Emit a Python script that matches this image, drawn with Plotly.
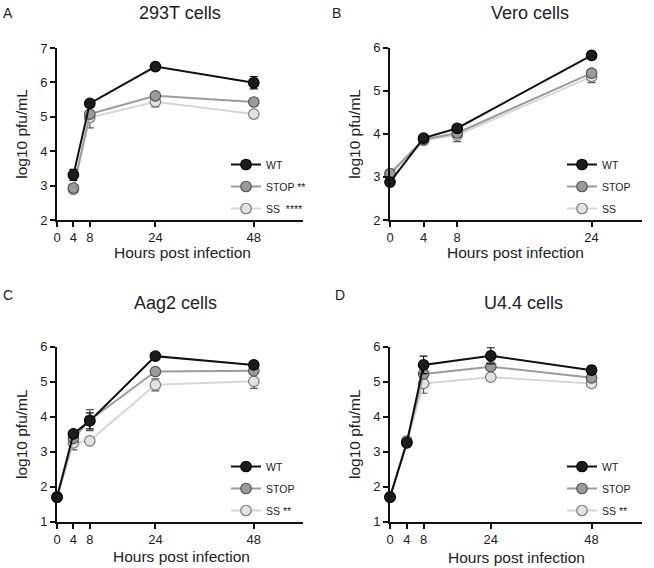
import plotly.graph_objects as go

W, H = 654, 568

# ---------------- data ----------------
series_names = ["WT", "STOP", "SS"]

# Panel A: 293T cells
a_hours = [4, 8, 24, 48]
a_wt = [3.31, 5.39, 6.46, 5.99]
a_wt_err = [0.16, 0.0, 0.0, 0.18]
a_stop = [2.93, 5.08, 5.61, 5.43]
a_stop_err = [0.0, 0.0, 0.0, 0.1]
a_ss = [2.89, 4.98, 5.44, 5.08]
a_ss_err = [0.0, 0.3, 0.15, 0.0]
a_labels = ["WT", "STOP **", "SS  ****"]

# Panel B: Vero cells
b_hours = [0, 4, 8, 24]
b_wt = [2.88, 3.90, 4.13, 5.82]
b_wt_err = [0.0, 0.06, 0.05, 0.08]
b_stop = [3.08, 3.87, 4.02, 5.41]
b_stop_err = [0.0, 0.05, 0.1, 0.08]
b_ss = [3.05, 3.85, 3.97, 5.33]
b_ss_err = [0.0, 0.05, 0.15, 0.14]
b_labels = ["WT", "STOP", "SS"]

# Panel C: Aag2 cells
c_hours = [0, 4, 8, 24, 48]
c_wt = [1.70, 3.51, 3.88, 5.73, 5.48]
c_wt_err = [0.0, 0.05, 0.23, 0.0, 0.06]
c_stop = [1.70, 3.38, 3.90, 5.29, 5.31]
c_stop_err = [0.0, 0.1, 0.3, 0.0, 0.08]
c_ss = [1.70, 3.25, 3.31, 4.91, 5.01]
c_ss_err = [0.0, 0.2, 0.0, 0.17, 0.2]
c_labels = ["WT", "STOP", "SS **"]

# Panel D: U4.4 cells
d_hours = [0, 4, 8, 24, 48]
d_wt = [1.70, 3.25, 5.48, 5.74, 5.33]
d_wt_err = [0.0, 0.05, 0.25, 0.23, 0.12]
d_stop = [1.70, 3.30, 5.22, 5.43, 5.11]
d_stop_err = [0.0, 0.05, 0.1, 0.1, 0.05]
d_ss = [1.70, 3.28, 4.95, 5.13, 4.95]
d_ss_err = [0.0, 0.05, 0.28, 0.05, 0.05]
d_labels = ["WT", "STOP", "SS **"]

titles = ["293T cells", "Vero cells", "Aag2 cells", "U4.4 cells"]
letters = ["A", "B", "C", "D"]
x_title = "Hours post infection"
y_title = "log10 pfu/mL"
x_ticks_48 = [0, 4, 8, 24, 48]
x_ticks_24 = [0, 4, 8, 24]

# ---------------- styles ----------------
FONT = "Arial, Liberation Sans, Helvetica, sans-serif"
TXT = "#222222"
styles = {
    "WT": dict(fill="#1c1c1c", edge="#000000", line="#111111", err="#111111"),
    "STOP": dict(fill="#9a9a9a", edge="#555555", line="#9c9c9c", err="#555555"),
    "SS": dict(fill="#e2e2e2", edge="#7a7a7a", line="#d6d6d6", err="#555555"),
}

fig = go.Figure()

panels = [
    dict(hours=a_hours, data=[(a_wt, a_wt_err), (a_stop, a_stop_err), (a_ss, a_ss_err)], labels=a_labels,
         xa="x", ya="y", leg="legend", yr=[2, 7], xr=[0, 60], xtall=x_ticks_48, yt=[2, 3, 4, 5, 6, 7]),
    dict(hours=b_hours, data=[(b_wt, b_wt_err), (b_stop, b_stop_err), (b_ss, b_ss_err)], labels=b_labels,
         xa="x2", ya="y2", leg="legend2", yr=[2, 6], xr=[0, 30], xtall=x_ticks_24, yt=[2, 3, 4, 5, 6]),
    dict(hours=c_hours, data=[(c_wt, c_wt_err), (c_stop, c_stop_err), (c_ss, c_ss_err)], labels=c_labels,
         xa="x3", ya="y3", leg="legend3", yr=[1, 6], xr=[0, 60], xtall=x_ticks_48, yt=[1, 2, 3, 4, 5, 6]),
    dict(hours=d_hours, data=[(d_wt, d_wt_err), (d_stop, d_stop_err), (d_ss, d_ss_err)], labels=d_labels,
         xa="x4", ya="y4", leg="legend4", yr=[1, 6], xr=[0, 60], xtall=x_ticks_48, yt=[1, 2, 3, 4, 5, 6]),
]

for pi, p in enumerate(panels):
    # draw SS first, WT last (WT on top)
    for si in [2, 1, 0]:
        name = series_names[si]
        st = styles[name]
        vals, errs = p["data"][si]
        fig.add_trace(go.Scatter(
            x=p["hours"], y=vals, mode="lines+markers",
            name=p["labels"][si],
            xaxis=p["xa"], yaxis=p["ya"], legend=p["leg"],
            legendgroup=f"{letters[pi]}_{name}", legendrank=si + 1,
            line=dict(color=st["line"], width=2),
            marker=dict(size=10.5, color=st["fill"], line=dict(color=st["edge"], width=1.2)),
            error_y=dict(type="data", array=errs, visible=True, color=st["err"], thickness=1.2, width=4),
            cliponaxis=False,
            showlegend=True,
        ))

def px_x(px):
    return px / W

def px_y(py):
    return 1 - py / H

doms = {
    "A": dict(x=[px_x(57), px_x(303)], y=[px_y(220), px_y(48)]),
    "B": dict(x=[px_x(390), px_x(642)], y=[px_y(220), px_y(47.7)]),
    "C": dict(x=[px_x(57), px_x(303)], y=[px_y(521.7), px_y(346.7)]),
    "D": dict(x=[px_x(390), px_x(642)], y=[px_y(521.7), px_y(346.7)]),
}

axis_common = dict(showline=True, linecolor="#111111", linewidth=1.6, ticks="outside",
                   ticklen=5, tickwidth=1.6, tickcolor="#111111", showgrid=False, zeroline=False,
                   automargin=False,
                   tickfont=dict(family=FONT, size=13, color=TXT), fixedrange=True)

layout = dict(
    width=W, height=H, margin=dict(l=0, r=0, t=0, b=0, autoexpand=False),
    paper_bgcolor="white", plot_bgcolor="white",
    font=dict(family=FONT, color=TXT),
)

axis_keys = [("xaxis", "yaxis"), ("xaxis2", "yaxis2"), ("xaxis3", "yaxis3"), ("xaxis4", "yaxis4")]
for pi, p in enumerate(panels):
    L = letters[pi]
    xk, yk = axis_keys[pi]
    yanchor_name = "y" if pi == 0 else f"y{pi + 1}"
    xanchor_name = "x" if pi == 0 else f"x{pi + 1}"
    layout[xk] = dict(axis_common, domain=doms[L]["x"], range=p["xr"], anchor=yanchor_name,
                      tickvals=p["xtall"], ticktext=[str(v) for v in p["xtall"]])
    layout[yk] = dict(axis_common, domain=doms[L]["y"], range=p["yr"], anchor=xanchor_name,
                      tickvals=p["yt"], ticktext=[str(v) for v in p["yt"]],
                      title=dict(text=y_title, font=dict(family=FONT, size=15.5, color=TXT), standoff=9))

leg_common = dict(bgcolor="rgba(0,0,0,0)", borderwidth=0, font=dict(family=FONT, size=10.5, color=TXT),
                  tracegroupgap=3, itemwidth=30, xanchor="left", yanchor="top", traceorder="grouped")
layout["legend"] = dict(leg_common, x=px_x(226), y=px_y(150))
layout["legend2"] = dict(leg_common, x=px_x(562), y=px_y(150))
layout["legend3"] = dict(leg_common, x=px_x(226), y=px_y(452))
layout["legend4"] = dict(leg_common, x=px_x(562), y=px_y(452))

annotations = []
title_pos = [(180, 13), (530, 13), (175, 303), (523, 303)]
letter_pos = [(8, 13), (336, 13), (8, 295), (340, 295)]
xtitle_pos = [(182, 252), (515, 252.5), (181, 556.5), (516, 557)]
for i in range(4):
    tx, ty = title_pos[i]
    annotations.append(dict(text=titles[i], x=px_x(tx), y=px_y(ty), xref="paper", yref="paper",
                            xanchor="center", yanchor="middle", showarrow=False,
                            font=dict(family=FONT, size=18, color=TXT)))
    lx, ly = letter_pos[i]
    annotations.append(dict(text=letters[i], x=px_x(lx), y=px_y(ly), xref="paper", yref="paper",
                            xanchor="center", yanchor="middle", showarrow=False,
                            font=dict(family=FONT, size=14, color=TXT)))
    hx, hy = xtitle_pos[i]
    annotations.append(dict(text=x_title, x=px_x(hx), y=px_y(hy), xref="paper", yref="paper",
                            xanchor="center", yanchor="middle", showarrow=False,
                            font=dict(family=FONT, size=15.5, color=TXT)))
layout["annotations"] = annotations

fig.update_layout(**layout)
# remove the browser's default 8px body margin so the figure fills the window exactly
fig.write_html("out.html", config={"displayModeBar": False},
               post_script="document.body.style.margin='0px';document.body.style.overflow='hidden';")
